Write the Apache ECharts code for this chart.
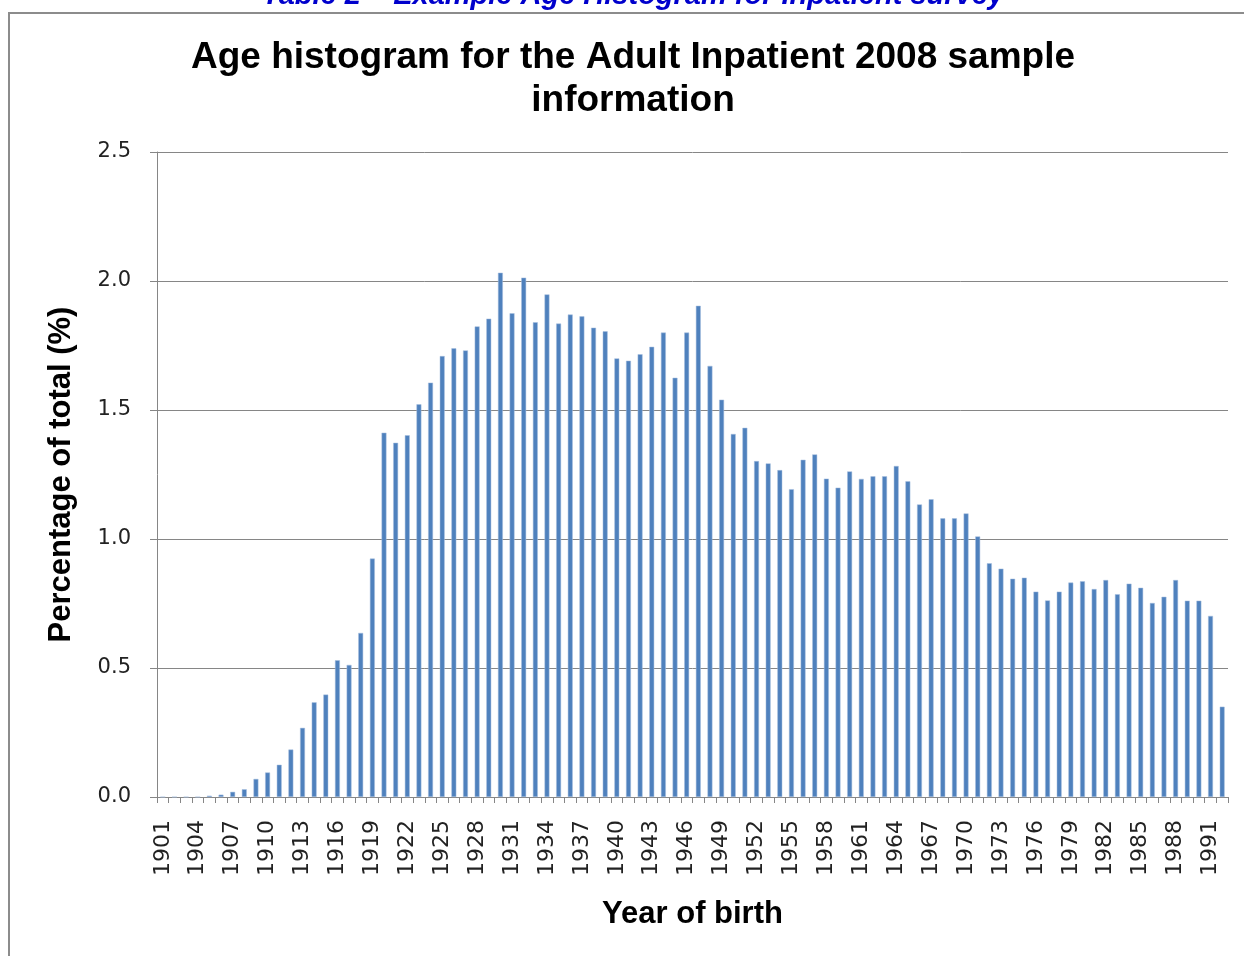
<!DOCTYPE html>
<html>
<head>
<meta charset="utf-8">
<script src="https://cdn.jsdelivr.net/npm/echarts@6/dist/echarts.min.js"></script>
<style>
html,body{margin:0;padding:0;background:#fff;}
#chart{width:1244px;height:956px;}
</style>
</head>
<body>
<div id="chart"></div>
<script>
// Years of birth 1901..1992
var years = [
  '1901','1902','1903','1904','1905','1906','1907','1908','1909','1910',
  '1911','1912','1913','1914','1915','1916','1917','1918','1919','1920',
  '1921','1922','1923','1924','1925','1926','1927','1928','1929','1930',
  '1931','1932','1933','1934','1935','1936','1937','1938','1939','1940',
  '1941','1942','1943','1944','1945','1946','1947','1948','1949','1950',
  '1951','1952','1953','1954','1955','1956','1957','1958','1959','1960',
  '1961','1962','1963','1964','1965','1966','1967','1968','1969','1970',
  '1971','1972','1973','1974','1975','1976','1977','1978','1979','1980',
  '1981','1982','1983','1984','1985','1986','1987','1988','1989','1990',
  '1991','1992'
];
// Percentage of total (%)
var percentages = [
  0, 0, 0, 0, 0.005, 0.009, 0.02, 0.03, 0.07, 0.095,
  0.125, 0.184, 0.268, 0.367, 0.397, 0.53, 0.512, 0.636, 0.924, 1.412,
  1.373, 1.402, 1.522, 1.606, 1.709, 1.739, 1.731, 1.824, 1.854, 2.032,
  1.875, 2.013, 1.84, 1.948, 1.835, 1.87, 1.863, 1.819, 1.805, 1.70,
  1.691, 1.716, 1.745, 1.80, 1.625, 1.80, 1.904, 1.671, 1.54, 1.407,
  1.431, 1.302, 1.293, 1.267, 1.193, 1.307, 1.328, 1.234, 1.199, 1.262,
  1.233, 1.243, 1.243, 1.283, 1.224, 1.134, 1.154, 1.08, 1.08, 1.099,
  1.01, 0.906, 0.885, 0.846, 0.85, 0.796, 0.762, 0.796, 0.831, 0.836,
  0.806, 0.841, 0.786, 0.827, 0.811, 0.752, 0.776, 0.841, 0.761, 0.761,
  0.702, 0.35
];
var yTicks = ['0.0','0.5','1.0','1.5','2.0','2.5'];

var chart = echarts.init(document.getElementById('chart'), null, {renderer:'canvas'});
var option = {
  animation: false,
  backgroundColor: '#ffffff',
  graphic: [
    {
      type: 'rect',
      shape: {x: 9, y: 13, width: 1260, height: 960},
      style: {fill: 'none', stroke: '#8c8c8c', lineWidth: 2},
      silent: true
    },
    {
      type: 'text',
      x: 633, y: -4,
      style: {
        text: 'Table 2 \u2013 Example Age Histogram for Inpatient survey',
        fill: '#0000cc',
        font: 'italic bold 29px "Liberation Sans", Arial, sans-serif',
        textAlign: 'center',
        textVerticalAlign: 'middle'
      },
      silent: true
    }
  ],
  title: {
    text: 'Age histogram for the Adult Inpatient 2008 sample\ninformation',
    left: 628,
    top: 31,
    textAlign: 'center',
    textStyle: {
      fontFamily: '"Liberation Sans", Arial, sans-serif',
      fontSize: 37,
      fontWeight: 'bold',
      color: '#000',
      lineHeight: 43
    }
  },
  grid: {left: 157, right: 16, top: 152, bottom: 159, containLabel: false},
  xAxis: {
    type: 'category',
    data: years,
    name: 'Year of birth',
    nameLocation: 'middle',
    nameGap: 102,
    nameTextStyle: {
      fontFamily: '"Liberation Sans", Arial, sans-serif',
      fontSize: 31, fontWeight: 'bold', color: '#000'
    },
    axisLine: {show: true, lineStyle: {color: '#868686', width: 1}},
    axisTick: {show: true, interval: 0, length: 6, alignWithLabel: false, lineStyle: {color: '#868686'}},
    axisLabel: {
      interval: 2, rotate: 90, margin: 23,
      fontFamily: '"DejaVu Sans", Verdana, sans-serif',
      fontSize: 22, color: '#222'
    },
    splitLine: {show: false}
  },
  yAxis: {
    type: 'value',
    min: 0, max: 2.5, interval: 0.5,
    name: 'Percentage of total (%)',
    nameLocation: 'middle',
    nameGap: 80,
    nameRotate: 90,
    nameTextStyle: {
      fontFamily: '"Liberation Sans", Arial, sans-serif',
      fontSize: 31, fontWeight: 'bold', color: '#000'
    },
    axisLine: {show: true, lineStyle: {color: '#868686', width: 1}},
    axisTick: {show: true, length: 7, lineStyle: {color: '#868686'}},
    axisLabel: {
      margin: 26,
      fontFamily: '"DejaVu Sans", Verdana, sans-serif',
      fontSize: 21, color: '#222',
      formatter: function (v) {
        var i = Math.round(v / 0.5);
        return yTicks[i] !== undefined ? yTicks[i] : v.toFixed(1);
      }
    },
    splitLine: {show: true, lineStyle: {color: '#868686', width: 1}}
  },
  series: [{
    type: 'bar',
    data: percentages,
    barWidth: '42%',
    itemStyle: {color: '#4f81bd', borderColor: '#a7bfde', borderWidth: 0.5},
    emphasis: {disabled: true}
  }]
};
chart.setOption(option);
</script>
</body>
</html>
